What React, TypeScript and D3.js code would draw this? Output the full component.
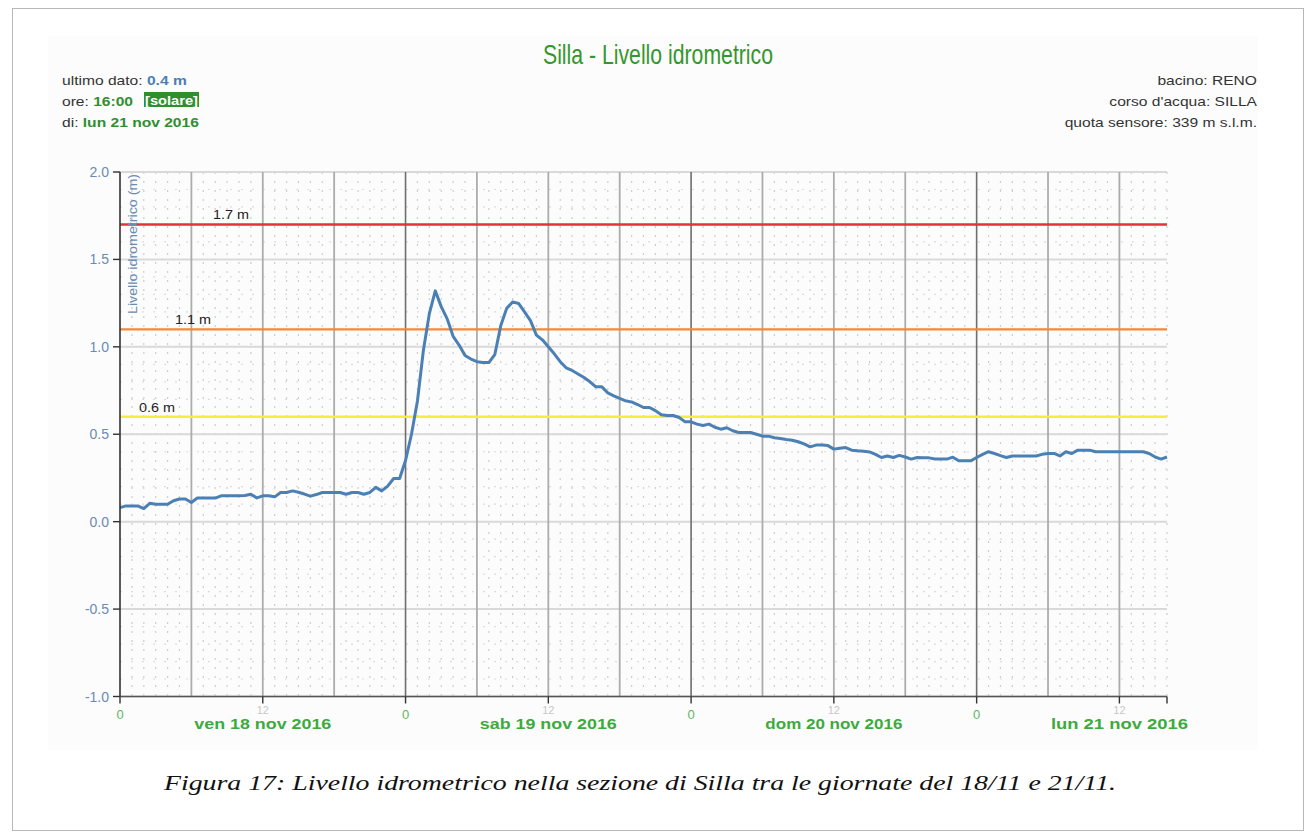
import React from "react";
import * as d3 from "d3";

// ---- data ----
const startTime = new Date(2016, 10, 18, 0, 0);
const endTime = new Date(2016, 10, 21, 16, 0);
const stepMinutes = 30;
const levels = [
  0.08, 0.09, 0.09, 0.09, 0.075, 0.105, 0.10, 0.10, 0.10, 0.12,
  0.13, 0.13, 0.11, 0.135, 0.135, 0.135, 0.135, 0.148, 0.148, 0.148,
  0.148, 0.15, 0.157, 0.136, 0.148, 0.148, 0.142, 0.167, 0.167, 0.176,
  0.168, 0.158, 0.146, 0.155, 0.167, 0.167, 0.167, 0.167, 0.157, 0.167,
  0.167, 0.157, 0.167, 0.196, 0.176, 0.203, 0.247, 0.247, 0.35, 0.5,
  0.69, 0.98, 1.19, 1.32, 1.23, 1.16, 1.06, 1.01, 0.95, 0.93,
  0.915, 0.91, 0.91, 0.955, 1.12, 1.22, 1.257, 1.248, 1.2, 1.15,
  1.067, 1.04, 1.0, 0.96, 0.915, 0.88, 0.865, 0.845, 0.825, 0.8,
  0.771, 0.771, 0.737, 0.72, 0.705, 0.691, 0.685, 0.67, 0.653, 0.653,
  0.635, 0.611, 0.607, 0.607, 0.596, 0.571, 0.571, 0.558, 0.55, 0.558,
  0.54, 0.529, 0.537, 0.52, 0.51, 0.51, 0.51, 0.5, 0.489, 0.489,
  0.48, 0.476, 0.47, 0.466, 0.457, 0.445, 0.428, 0.438, 0.438, 0.435,
  0.415, 0.42, 0.424, 0.409, 0.405, 0.403, 0.399, 0.385, 0.367, 0.376,
  0.367, 0.379, 0.37, 0.358, 0.367, 0.365, 0.365, 0.358, 0.358, 0.358,
  0.369, 0.348, 0.348, 0.348, 0.367, 0.385, 0.4, 0.39, 0.378, 0.367,
  0.376, 0.376, 0.376, 0.376, 0.376, 0.385, 0.39, 0.39, 0.376, 0.4,
  0.39, 0.409, 0.409, 0.409, 0.4, 0.4, 0.4, 0.4, 0.4, 0.4,
  0.4, 0.4, 0.4, 0.39, 0.37, 0.358, 0.37,
];
const thresholds = [1.7, 1.1, 0.6];
const thresholdLabels = ["1.7 m", "1.1 m", "0.6 m"];
const yTicks = [-1.0, -0.5, 0.0, 0.5, 1.0, 1.5, 2.0];
const dayLabels = ["ven 18 nov 2016", "sab 19 nov 2016", "dom 20 nov 2016", "lun 21 nov 2016"];
const rightInfo = ["bacino: RENO", "corso d'acqua: SILLA", "quota sensore: 339 m s.l.m."];
const titleText = "Silla - Livello idrometrico";
const yAxisTitle = "Livello idrometrico (m)";
const captionText = "Figura 17: Livello idrometrico nella sezione di Silla tra le giornate del 18/11 e 21/11.";

// ---- style ----
const thresholdColors = ["#e4323a", "#f28a3a", "#f3f03c"];
const thresholdLabelX = [213, 175, 139];
const W = 1306, H = 836;
const L = 120, R = 1167, T = 172, B = 696.5;
const green = "#2f8f2f";
const lightGreen = "#3daa3d";
const blueGray = "#6a8bb2";
const sans = "'Liberation Sans', Arial, sans-serif";

export default function App() {
  const x = d3.scaleTime().domain([startTime, endTime]).range([L, R]);
  const y = d3.scaleLinear().domain([-1, 2]).range([B, T]);

  const series = levels.map((v, i) => ({
    t: new Date(startTime.getTime() + i * stepMinutes * 60000),
    v,
  }));
  const line = d3
    .line<{ t: Date; v: number }>()
    .x((d) => x(d.t))
    .y((d) => y(d.v));

  const hours = d3.timeHour.range(startTime, new Date(endTime.getTime() + 1));
  const minorV = hours.filter((h) => h.getHours() % 6 !== 0);
  const sixH = hours.filter((h) => h.getHours() % 6 === 0 && h.getHours() !== 0);
  const days = hours.filter((h) => h.getHours() === 0);
  const noons = hours.filter((h) => h.getHours() === 12);
  const minorH = d3.range(-10, 21).map((k) => k / 10).filter((v) => Math.round(v * 10) % 5 !== 0);

  return (
    <svg
      width={W}
      height={H}
      style={{ position: "fixed", left: 0, top: 0, background: "#fff" }}
      fontFamily={sans}
    >
      <rect x={12.5} y={8.5} width={1291} height={822} fill="#fff" stroke="#b8b8b8" strokeWidth={1} />
      <rect x={48} y={36} width={1210} height={714} fill="#fcfcfc" />

      {/* title */}
      <text x={658} y={64} textAnchor="middle" fontSize={28} fill="#34972c" textLength={230} lengthAdjust="spacingAndGlyphs">
        {titleText}
      </text>

      {/* left info */}
      <g transform="translate(62,85) scale(1.2,1)" fontSize={13}>
        <text fill="#333">
          ultimo dato: <tspan fill="#4a7fb5" fontWeight="bold">{levels[levels.length - 1].toFixed(1)} m</tspan>
        </text>
      </g>
      <g transform="translate(62,106) scale(1.2,1)" fontSize={13}>
        <text fill="#333">
          ore: <tspan fill={green} fontWeight="bold">16:00</tspan>
        </text>
      </g>
      <rect x={144} y={92} width={55} height={15} fill={green} />
      <text x={145} y={104.5} fontSize={12.5} fontWeight="bold" fill="#fff" textLength={53} lengthAdjust="spacingAndGlyphs">
        [solare]
      </text>
      <g transform="translate(62,127) scale(1.2,1)" fontSize={13}>
        <text fill="#333">
          di: <tspan fill={green} fontWeight="bold">lun 21 nov 2016</tspan>
        </text>
      </g>

      {/* right info */}
      {rightInfo.map((s, i) => (
        <g key={s} transform={`translate(1257,${85 + i * 21}) scale(1.2,1)`}>
          <text textAnchor="end" fontSize={13} fill="#333">{s}</text>
        </g>
      ))}

      {/* minor dotted grid */}
      {minorV.map((h, i) => (
        <line key={"mv" + i} x1={x(h)} x2={x(h)} y1={T} y2={B} stroke="#cdcdcd" strokeWidth={1.2} strokeDasharray="2,7" />
      ))}
      {minorH.map((v, i) => (
        <line key={"mh" + i} x1={L} x2={R} y1={y(v)} y2={y(v)} stroke="#dcdcdc" strokeWidth={1.2} strokeDasharray="2,9" />
      ))}
      {/* major horizontal grid */}
      {yTicks.map((v) => (
        <line key={"hg" + v} x1={L} x2={R} y1={y(v)} y2={y(v)} stroke="#d9d9d9" strokeWidth={2} />
      ))}
      {/* 6h grid */}
      {sixH.map((h, i) => (
        <line key={"sg" + i} x1={x(h)} x2={x(h)} y1={T} y2={B} stroke="#acacac" strokeWidth={1.8} />
      ))}
      {days.slice(1).map((h, i) => (
        <line key={"dg" + i} x1={x(h)} x2={x(h)} y1={T} y2={B} stroke="#6e6e6e" strokeWidth={1.6} />
      ))}

      {/* thresholds */}
      {thresholds.map((v, i) => (
        <g key={"th" + i}>
          <line x1={L} x2={R} y1={y(v)} y2={y(v)} stroke={thresholdColors[i]} strokeWidth={2.4} />
          <text
            x={thresholdLabelX[i]}
            y={y(v) - 5}
            fontSize={13}
            fill="#222"
            textLength={36}
            lengthAdjust="spacingAndGlyphs"
          >
            {thresholdLabels[i]}
          </text>
        </g>
      ))}

      {/* series */}
      <path d={line(series) || ""} fill="none" stroke="#4b80b4" strokeWidth={3} strokeLinejoin="round" />

      {/* y axis */}
      <line x1={L} x2={L} y1={T} y2={B} stroke="#333" strokeWidth={1.6} />
      {yTicks.map((v) => (
        <g key={"yt" + v}>
          <line x1={L - 7} x2={L} y1={y(v)} y2={y(v)} stroke="#333" strokeWidth={1.4} />
          <text x={109} y={y(v) + 5} textAnchor="end" fontSize={14} fill={blueGray}>
            {v.toFixed(1)}
          </text>
        </g>
      ))}
      <text
        transform={`translate(137,${T + 2}) rotate(-90)`}
        textAnchor="end"
        fontSize={13}
        fill={blueGray}
        textLength={140}
        lengthAdjust="spacingAndGlyphs"
      >
        {yAxisTitle}
      </text>

      {/* x axis */}
      <line x1={L} x2={R} y1={B} y2={B} stroke="#555" strokeWidth={1.6} />
      {[...days, ...noons, endTime].map((h, i) => (
        <line key={"xt" + i} x1={x(h)} x2={x(h)} y1={B} y2={B + 7} stroke="#333" strokeWidth={1.4} />
      ))}
      {noons.map((h, i) => (
        <text key={"nl" + i} x={x(h)} y={714} textAnchor="middle" fontSize={11} fill="#c8c8c8">12</text>
      ))}
      {days.map((h, i) => (
        <text key={"zl" + i} x={x(h)} y={719} textAnchor="middle" fontSize={13} fill="#5cb85c">0</text>
      ))}
      {noons.map((h, i) => (
        <text
          key={"dl" + i}
          x={x(h)}
          y={729}
          textAnchor="middle"
          fontSize={15}
          fontWeight="bold"
          fill={lightGreen}
          textLength={137}
          lengthAdjust="spacingAndGlyphs"
        >
          {dayLabels[i]}
        </text>
      ))}

      {/* caption */}
      <text
        x={640}
        y={790}
        textAnchor="middle"
        fontSize={22}
        fontStyle="italic"
        fontFamily="'Liberation Serif', 'Times New Roman', serif"
        fill="#111"
        textLength={952}
        lengthAdjust="spacingAndGlyphs"
      >
        {captionText}
      </text>
    </svg>
  );
}
